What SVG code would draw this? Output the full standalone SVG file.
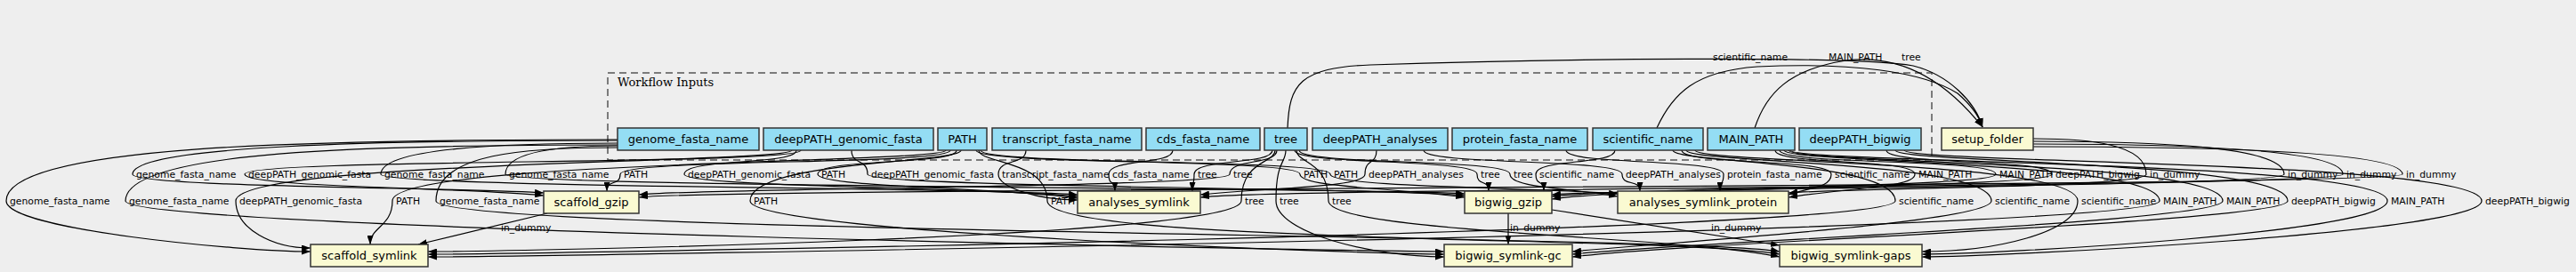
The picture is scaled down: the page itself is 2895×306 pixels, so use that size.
<svg xmlns="http://www.w3.org/2000/svg" width="2895" height="306" viewBox="0 0 2895 306">
<style>
.in{fill:#94DDF4;stroke:#333;stroke-width:1.5}
.st{fill:#FAFAD2;stroke:#333;stroke-width:1.5}
.nt{font-family:"DejaVu Sans",sans-serif;font-size:13px;text-anchor:middle;fill:#000}
.e{fill:none;stroke:#000;stroke-width:1.2;marker-end:url(#arr)}
.lb{font-family:"DejaVu Sans",sans-serif;font-size:10.8px;fill:#000}
.lm{font-family:"DejaVu Sans",sans-serif;font-size:10.8px;fill:#000;text-anchor:middle}
</style>
<defs>
<marker id="arr" viewBox="0 0 10 7" refX="10" refY="3.5" markerWidth="10" markerHeight="7" markerUnits="userSpaceOnUse" orient="auto">
<polygon points="0,0 10,3.5 0,7" fill="#000"/>
</marker>
</defs>
<rect x="0" y="0" width="2895" height="306" fill="#eeeeee"/>
<g id="cluster_inputs">
<rect x="683" y="82" width="1488" height="98" fill="none" stroke="#555" stroke-width="1.5" stroke-dasharray="8,5"/>
<text x="694" y="97" font-family="'DejaVu Serif',serif" font-size="13px">Workflow Inputs</text>
</g>
<g id="connectors">
<g><path class="e" d="M694,158 C421,158 149,164 149,196 C149,211 531,211 611,217"/><text class="lb" x="153" y="200">genome_fasta_name</text></g>
<g><path class="e" d="M900,169 C900,186 275,178 275,196 C275,211 531,211 611,220"/><text class="lb" x="279" y="200">deepPATH_genomic_fasta</text></g>
<g><path class="e" d="M694,161 C561,161 428,167 428,196 C428,211 1131,211 1211,219"/><text class="lb" x="432" y="200">genome_fasta_name</text></g>
<g><path class="e" d="M694,164 C631,164 568,170 568,196 C568,211 1566,211 1646,218"/><text class="lb" x="572" y="200">genome_fasta_name</text></g>
<g><path class="e" d="M1068,169 C1068,186 697,178 697,196 C697,210 682,201 682,215"/><text class="lb" x="701" y="200">PATH</text></g>
<g><path class="e" d="M895,169 C895,186 769,178 769,196 C769,211 1131,211 1211,221"/><text class="lb" x="773" y="200">deepPATH_genomic_fasta</text></g>
<g><path class="e" d="M1075,169 C1075,186 919,178 919,196 C919,211 1131,211 1211,223"/><text class="lb" x="923" y="200">PATH</text></g>
<g><path class="e" d="M957,169 C957,186 975,178 975,196 C975,211 1566,211 1646,220"/><text class="lb" x="979" y="200">deepPATH_genomic_fasta</text></g>
<g><path class="e" d="M1153,169 C1153,186 1122,178 1122,196 C1122,211 1167,225 1211,225"/><text class="lb" x="1126" y="200">transcript_fasta_name</text></g>
<g><path class="e" d="M1318,169 C1318,186 1246,178 1246,196 C1246,210 1253,201 1253,215"/><text class="lb" x="1250" y="200">cds_fasta_name</text></g>
<g><path class="e" d="M1430,169 C1430,186 1342,178 1342,196 C1342,210 1340,201 1340,215"/><text class="lb" x="1346" y="200">tree</text></g>
<g><path class="e" d="M1435,169 C1435,186 1382,178 1382,196 C1382,211 798,211 718,219"/><text class="lb" x="1386" y="200">tree</text></g>
<g><path class="e" d="M1097,169 C1097,186 1461,178 1461,196 C1461,211 1566,211 1646,222"/><text class="lb" x="1465" y="200">PATH</text></g>
<g><path class="e" d="M1102,169 C1102,186 1495,178 1495,196 C1495,211 1738,211 1818,218"/><text class="lb" x="1499" y="200">PATH</text></g>
<g><path class="e" d="M1547,169 C1547,186 1534,178 1534,196 C1534,211 1429,211 1349,219"/><text class="lb" x="1538" y="200">deepPATH_analyses</text></g>
<g><path class="e" d="M1455,169 C1455,186 1660,178 1660,196 C1660,210 1673,201 1673,215"/><text class="lb" x="1664" y="200">tree</text></g>
<g><path class="e" d="M1460,169 C1460,186 1697,178 1697,196 C1697,211 1758,211 1818,221"/><text class="lb" x="1701" y="200">tree</text></g>
<g><path class="e" d="M1815,169 C1815,186 1726,178 1726,196 C1726,210 1735,201 1735,215"/><text class="lb" x="1730" y="200">scientific_name</text></g>
<g><path class="e" d="M1600,169 C1600,186 1823,178 1823,196 C1823,210 1843,201 1843,215"/><text class="lb" x="1827" y="200">deepPATH_analyses</text></g>
<g><path class="e" d="M1760,169 C1760,186 1937,178 1937,196 C1937,210 1933,201 1933,215"/><text class="lb" x="1941" y="200">protein_fasta_name</text></g>
<g><path class="e" d="M1890,169 C1890,186 2058,178 2058,196 C2058,211 2034,211 2010,219"/><text class="lb" x="2062" y="200">scientific_name</text></g>
<g><path class="e" d="M1995,169 C1995,186 2152,178 2152,196 C2152,211 2081,211 2010,222"/><text class="lb" x="2156" y="200">MAIN_PATH</text></g>
<g><path class="e" d="M2000,169 C2000,186 2243,178 2243,196 C2243,211 1824,211 1744,221"/><text class="lb" x="2247" y="200">MAIN_PATH</text></g>
<g><path class="e" d="M2120,169 C2120,186 2306,178 2306,196 C2306,211 1824,211 1744,224"/><text class="lb" x="2310" y="200">deepPATH_bigwig</text></g>
<g><path class="e" d="M2285,156 C2348,156 2412,162 2412,196 C2412,211 2090,211 2010,217"/><text class="lb" x="2416" y="200">in_dummy</text></g>
<g><path class="e" d="M2285,159 C2426,159 2567,165 2567,196 C2567,211 1824,211 1744,219"/><text class="lb" x="2571" y="200">in_dummy</text></g>
<g><path class="e" d="M2285,162 C2459,162 2633,168 2633,196 C2633,211 1429,211 1349,222"/><text class="lb" x="2637" y="200">in_dummy</text></g>
<g><path class="e" d="M2285,165 C2492,165 2700,171 2700,196 C2700,211 798,211 718,222"/><text class="lb" x="2704" y="200">in_dummy</text></g>

<g><path class="e" d="M694,157 C350,157 7,163 7,226 C7,258 269,283 349,283"/><text class="lb" x="11" y="229.5">genome_fasta_name</text></g>
<g><path class="e" d="M694,163 C417,163 141,169 141,226 C141,258 1543,283 1623,283"/><text class="lb" x="145" y="229.5">genome_fasta_name</text></g>
<g><path class="e" d="M890,169 C890,184 265,180 265,226 C265,258 307,279 349,279"/><text class="lb" x="269" y="229.5">deepPATH_genomic_fasta</text></g>
<g><path class="e" d="M1063,169 C1063,184 441,180 441,226 C441,255 416,255 416,275"/><text class="lb" x="445" y="229.5">PATH</text></g>
<g><path class="e" d="M694,166 C592,166 490,172 490,226 C490,262 1900,264 2000,283"/><text class="lb" x="494" y="229.5">genome_fasta_name</text></g>
<g><path class="e" d="M1080,169 C1080,184 843,180 843,226 C843,262 1543,286 1623,286"/><text class="lb" x="847" y="229.5">PATH</text></g>
<g><path class="e" d="M1100,169 C1100,184 1177,180 1177,226 C1177,275 1900,266 2000,286"/><text class="lb" x="1181" y="229.5">PATH</text></g>
<g><path class="e" d="M1433,169 C1433,184 1395,180 1395,226 C1395,268 561,283 481,283"/><text class="lb" x="1399" y="229.5">tree</text></g>
<g><path class="e" d="M1445,169 C1445,184 1434,180 1434,226 C1434,262 1543,289 1623,289"/><text class="lb" x="1438" y="229.5">tree</text></g>
<g><path class="e" d="M1457,169 C1457,184 1493,180 1493,226 C1493,262 1900,266 2000,289"/><text class="lb" x="1497" y="229.5">tree</text></g>
<g><path class="e" d="M1880,169 C1880,184 2130,180 2130,226 C2130,262 561,286 481,286"/><text class="lb" x="2134" y="229.5">scientific_name</text></g>
<g><path class="e" d="M1895,169 C1895,184 2238,180 2238,226 C2238,250 1880,272 1767,283"/><text class="lb" x="2242" y="229.5">scientific_name</text></g>
<g><path class="e" d="M1905,169 C1905,184 2335,180 2335,226 C2335,262 2240,283 2160,283"/><text class="lb" x="2339" y="229.5">scientific_name</text></g>
<g><path class="e" d="M2005,169 C2005,184 2427,180 2427,226 C2427,262 561,289 481,289"/><text class="lb" x="2431" y="229.5">MAIN_PATH</text></g>
<g><path class="e" d="M2010,169 C2010,184 2498,180 2498,226 C2498,250 1900,272 1767,286"/><text class="lb" x="2502" y="229.5">MAIN_PATH</text></g>
<g><path class="e" d="M2130,169 C2130,184 2571,180 2571,226 C2571,250 1900,272 1767,289"/><text class="lb" x="2575" y="229.5">deepPATH_bigwig</text></g>
<g><path class="e" d="M2012,169 C2012,184 2683,180 2683,226 C2683,262 2240,286 2160,286"/><text class="lb" x="2687" y="229.5">MAIN_PATH</text></g>
<g><path class="e" d="M2140,169 C2140,184 2789,180 2789,226 C2789,262 2240,289 2160,289"/><text class="lb" x="2793" y="229.5">deepPATH_bigwig</text></g>

<g><path class="e" d="M615,240 L470,275"/><text class="lb" x="563" y="259.5">in_dummy</text></g>
<g><path class="e" d="M1695,240 L1695,275"/><text class="lb" x="1697" y="259.5">in_dummy</text></g>
<g><path class="e" d="M1744,236 L2000,276"/><text class="lb" x="1923" y="259.5">in_dummy</text></g>

<g><path class="e" d="M1447,144 C1449,95 1460,76 1540,73 C1750,66 2080,62 2150,74 C2190,84 2220,115 2228,143"/><text class="lb" x="2137" y="67.5">tree</text></g>
<g><path class="e" d="M1862,144 C1880,105 1905,80 1975,75 C2080,70 2160,80 2200,105 C2215,118 2224,130 2228,143"/><text class="lb" x="1925" y="67.5">scientific_name</text></g>
<g><path class="e" d="M1972,144 C1985,105 2010,78 2075,68 C2140,60 2190,95 2228,143"/><text class="lb" x="2055" y="67.5">MAIN_PATH</text></g>
</g>
<g id="genome_fasta_name"><rect class="in" x="694" y="144" width="159" height="25"/><text class="nt" x="773.5" y="161">genome_fasta_name</text></g>
<g id="deepPATH_genomic_fasta"><rect class="in" x="858" y="144" width="191" height="25"/><text class="nt" x="953.5" y="161">deepPATH_genomic_fasta</text></g>
<g id="PATH"><rect class="in" x="1054" y="144" width="55" height="25"/><text class="nt" x="1081.5" y="161">PATH</text></g>
<g id="transcript_fasta_name"><rect class="in" x="1115" y="144" width="168" height="25"/><text class="nt" x="1199" y="161">transcript_fasta_name</text></g>
<g id="cds_fasta_name"><rect class="in" x="1288" y="144" width="128" height="25"/><text class="nt" x="1352" y="161">cds_fasta_name</text></g>
<g id="tree"><rect class="in" x="1421" y="144" width="48" height="25"/><text class="nt" x="1445" y="161">tree</text></g>
<g id="deepPATH_analyses"><rect class="in" x="1475" y="144" width="152" height="25"/><text class="nt" x="1551" y="161">deepPATH_analyses</text></g>
<g id="protein_fasta_name"><rect class="in" x="1632" y="144" width="152" height="25"/><text class="nt" x="1708" y="161">protein_fasta_name</text></g>
<g id="scientific_name"><rect class="in" x="1790" y="144" width="124" height="25"/><text class="nt" x="1852" y="161">scientific_name</text></g>
<g id="MAIN_PATH"><rect class="in" x="1919" y="144" width="98" height="25"/><text class="nt" x="1968" y="161">MAIN_PATH</text></g>
<g id="deepPATH_bigwig"><rect class="in" x="2022" y="144" width="137" height="25"/><text class="nt" x="2090.5" y="161">deepPATH_bigwig</text></g>
<g id="setup_folder"><rect class="st" x="2182" y="144" width="103" height="25"/><text class="nt" x="2233.5" y="161">setup_folder</text></g>
<g id="scaffold_gzip"><rect class="st" x="611" y="215" width="107" height="25"/><text class="nt" x="664.5" y="232">scaffold_gzip</text></g>
<g id="analyses_symlink"><rect class="st" x="1211" y="215" width="138" height="25"/><text class="nt" x="1280" y="232">analyses_symlink</text></g>
<g id="bigwig_gzip"><rect class="st" x="1646" y="215" width="98" height="25"/><text class="nt" x="1695" y="232">bigwig_gzip</text></g>
<g id="analyses_symlink_protein"><rect class="st" x="1818" y="215" width="192" height="25"/><text class="nt" x="1914" y="232">analyses_symlink_protein</text></g>
<g id="scaffold_symlink"><rect class="st" x="349" y="275" width="132" height="25"/><text class="nt" x="415" y="292">scaffold_symlink</text></g>
<g id="bigwig_symlink-gc"><rect class="st" x="1623" y="275" width="144" height="25"/><text class="nt" x="1695" y="292">bigwig_symlink-gc</text></g>
<g id="bigwig_symlink-gaps"><rect class="st" x="2000" y="275" width="160" height="25"/><text class="nt" x="2080" y="292">bigwig_symlink-gaps</text></g>
</svg>
